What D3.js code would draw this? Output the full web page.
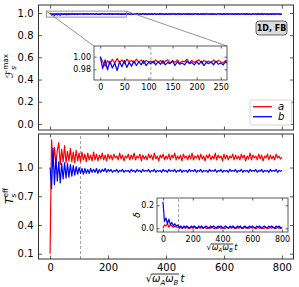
<!DOCTYPE html>
<html><head><meta charset="utf-8">
<script src="https://cdn.jsdelivr.net/npm/d3@7"></script>
<style>body{margin:0;background:#fff}text{font-family:"DejaVu Sans",sans-serif;fill:#000}</style>
</head><body><svg id="c" width="299" height="287"></svg>
<script>
// ---------- data ----------
const stepT = 5;     // time step of F and T series
const stepD = 10;    // time step of delta series
const seriesNames = ["a", "b"];
const seriesColors = ["#ff0000", "#0000ff"];

const Fa = [1.000,0.992,0.985,0.994,0.988,0.996,0.990,0.997,0.991,0.995,0.989,0.996,0.992,0.994,0.990,0.996,0.991,0.995,0.989,0.994,0.992,
0.993,0.990,0.995,0.991,0.994,0.989,0.993,0.995,0.990,0.994,
0.991,0.995,0.990,0.993,0.992,0.996,0.990,0.994,0.991,0.993,
0.995,0.990,0.994,0.992,0.993,0.990,0.995,0.991,0.994,0.992,
0.990,0.994,0.992,0.995,0.991,0.993,0.990,0.994,0.992,0.996,
0.991,0.993,0.990,0.995,0.992,0.994,0.991,0.993,0.990,0.994,
0.992,0.995,0.991,0.993,0.990,0.994,0.992,0.993,0.991,0.995,
0.990,0.993,0.992,0.994,0.991,0.995,0.990,0.993,0.992,0.994,
0.991,0.993,0.990,0.995,0.992,0.994,0.991,0.993,0.992,0.995,
0.990,0.994,0.991,0.993,0.992,0.995,0.990,0.994,0.991,0.993,
0.992,0.994,0.990,0.993,0.991,0.995,0.992,0.993,0.990,0.994,
0.991,0.995,0.992,0.993,0.990,0.994,0.991,0.993,0.992,0.995,
0.990,0.993,0.991,0.994,0.992,0.995,0.990,0.993,0.991,0.994,
0.992,0.993,0.990,0.995,0.991,0.994,0.992,0.993,0.990,0.994,
0.991,0.993,0.992,0.995,0.990,0.994,0.991,0.993,0.992,0.993];

const Fb = [1.000,0.981,0.995,0.979,0.993,0.982,0.990,0.978,0.992,0.984,0.994,0.983,0.991,0.985,0.993,0.986,0.992,0.987,0.994,0.986,0.991,
0.989,0.993,0.987,0.992,0.988,0.994,0.987,0.991,0.989,0.993,
0.986,0.992,0.988,0.990,0.987,0.993,0.989,0.991,0.987,0.992,
0.988,0.993,0.986,0.991,0.989,0.992,0.987,0.993,0.988,0.990,
0.987,0.992,0.989,0.991,0.986,0.993,0.988,0.991,0.987,0.992,
0.989,0.990,0.987,0.993,0.988,0.991,0.986,0.992,0.989,0.990,
0.987,0.993,0.988,0.991,0.987,0.992,0.989,0.990,0.986,0.992,
0.988,0.991,0.987,0.993,0.989,0.990,0.987,0.992,0.988,0.991,
0.986,0.993,0.989,0.990,0.987,0.992,0.988,0.991,0.987,0.993,
0.989,0.990,0.986,0.992,0.988,0.991,0.987,0.993,0.989,0.990,
0.987,0.992,0.988,0.991,0.986,0.993,0.989,0.990,0.987,0.992,
0.988,0.991,0.987,0.993,0.989,0.990,0.986,0.992,0.988,0.991,
0.987,0.993,0.989,0.990,0.987,0.992,0.988,0.991,0.986,0.993,
0.989,0.990,0.987,0.992,0.988,0.991,0.987,0.993,0.989,0.990,
0.986,0.992,0.988,0.991,0.987,0.993,0.989,0.990,0.988,0.991];

const Ta = [0.10,1.29,1.02,1.21,1.04,1.18,1.26,1.03,1.19,1.06,
1.23,1.05,1.17,1.07,1.20,1.06,1.16,1.05,1.18,1.07,
1.15,1.06,1.16,1.08,1.14,1.06,1.15,1.08,1.13,1.07,
1.16,1.08,1.14,1.07,1.13,1.09,1.15,1.08,1.13,1.07,
1.14,
1.09,1.13,1.08,1.14,1.10,1.12,1.08,1.15,1.09,1.13,
1.07,1.12,1.10,1.14,1.08,1.13,1.09,1.15,1.08,1.12,
1.10,1.14,1.07,1.13,1.09,1.12,1.08,1.14,1.10,1.13,
1.08,1.15,1.09,1.12,1.07,1.13,1.10,1.14,1.08,1.12,
1.09,1.14,1.08,1.13,1.10,1.15,1.08,1.12,1.09,1.13,
1.07,1.14,1.10,1.12,1.08,1.13,1.09,1.15,1.08,1.12,
1.10,1.13,1.08,1.14,1.09,1.12,1.07,1.13,1.10,1.14,
1.08,1.12,1.09,1.15,1.08,1.13,1.10,1.12,1.07,1.14,
1.09,1.13,1.08,1.12,1.10,1.14,1.08,1.13,1.09,1.12,
1.08,1.14,1.10,1.13,1.07,1.12,1.09,1.15,1.08,1.13,
1.10,1.12,1.08,1.14,1.09,1.13,1.07,1.12,1.10,1.14,
1.08,1.13,1.09,1.12,1.08,1.14,1.10,1.12,1.09,1.11];

const Tb = [1.00,0.78,1.20,0.82,1.10,0.86,1.06,0.84,1.04,0.88,
1.05,0.89,1.04,0.90,1.03,0.91,1.02,0.92,1.01,0.93,
1.00,0.94,0.99,0.93,0.99,0.94,0.98,0.94,0.99,0.95,
0.98,0.95,0.99,0.94,0.98,0.95,0.98,0.96,0.99,0.95,
0.98,
0.96,0.98,0.95,0.97,0.96,0.98,0.95,0.97,0.96,0.98,
0.95,0.97,0.96,0.97,0.95,0.98,0.96,0.97,0.95,0.98,
0.96,0.97,0.95,0.98,0.96,0.97,0.96,0.98,0.95,0.97,
0.96,0.98,0.95,0.97,0.96,0.97,0.95,0.98,0.96,0.97,
0.95,0.98,0.96,0.97,0.96,0.98,0.95,0.97,0.96,0.98,
0.95,0.97,0.96,0.97,0.95,0.98,0.96,0.97,0.96,0.98,
0.95,0.97,0.96,0.98,0.95,0.97,0.96,0.97,0.95,0.98,
0.96,0.97,0.96,0.98,0.95,0.97,0.96,0.98,0.95,0.97,
0.96,0.97,0.95,0.98,0.96,0.97,0.96,0.98,0.95,0.97,
0.96,0.98,0.95,0.97,0.96,0.97,0.95,0.98,0.96,0.97,
0.96,0.98,0.95,0.97,0.96,0.98,0.95,0.97,0.96,0.97,
0.95,0.98,0.96,0.97,0.96,0.98,0.95,0.97,0.96,0.97];

const Da = [0.00,0.03,0.02,0.04,0.01,0.03,0.02,0.01,0.02,0.01,0.01,
0.00,0.01,0.00,0.01,0.00,0.01,0.00,0.00,0.01,0.00,
0.01,0.00,0.00,0.01,0.00,0.01,0.00,0.01,0.00,0.00,
0.01,0.00,0.01,0.00,0.00,0.01,0.00,0.01,0.00,0.01,
0.00,0.00,0.01,0.00,0.01,0.00,0.01,0.00,0.00,0.01,
0.00,0.01,0.00,0.00,0.01,0.00,0.01,0.00,0.01,0.00,
0.01,0.00,0.00,0.01,0.00,0.01,0.00,0.00,0.01,0.00,
0.00,0.01,0.00,0.01,0.00,0.00,0.01,0.00,0.01,0.00];

const Db = [0.23,0.06,0.09,0.04,0.08,0.03,0.05,0.02,0.04,0.02,0.03,
0.01,0.02,0.00,0.02,0.01,0.02,0.01,0.00,0.02,0.01,
0.02,0.01,0.00,0.02,0.01,0.02,0.00,0.01,0.02,0.01,
0.00,0.02,0.01,0.02,0.01,0.00,0.02,0.01,0.02,0.00,
0.01,0.02,0.01,0.00,0.02,0.01,0.02,0.01,0.00,0.02,
0.01,0.02,0.00,0.01,0.02,0.01,0.00,0.02,0.01,0.02,
0.01,0.00,0.02,0.01,0.02,0.00,0.01,0.02,0.01,0.00,
0.02,0.01,0.02,0.01,0.00,0.02,0.01,0.02,0.00,0.01];

const markerT = 105;       // dashed vertical marker
const mainXTicks = [0, 200, 400, 600, 800];
const topYTicks = [0.0, 0.2, 0.4, 0.6, 0.8, 1.0];
const botYTicks = [0.1, 0.4, 0.7, 1.0];
const inset1XTicks = [0, 50, 100, 150, 200, 250];
const inset1YTicks = [0.98, 1.00];
const inset2XTicks = [0, 200, 400, 600, 800];
const inset2YTicks = [0.0, 0.2];
const tagText = "1D, FB";

// ---------- drawing ----------
const svg = d3.select("#c");
const timesOf = (arr, step) => arr.map((v, i) => [i * step, v]);

const x = d3.scaleLinear().domain([-40, 840]).range([38.5, 293.5]);
const yTop = d3.scaleLinear().domain([-0.055, 1.072]).range([130, 5]);
const yBot = d3.scaleLinear().domain([0.045, 1.35]).range([259, 134]);

const xi1 = d3.scaleLinear().domain([-13, 263]).range([94, 227]);
const yi1 = d3.scaleLinear().domain([0.963, 1.017]).range([80, 46]);
const xi2 = d3.scaleLinear().domain([-40, 840]).range([157, 288]);
const yi2 = d3.scaleLinear().domain([-0.032, 0.263]).range([232, 198]);

let clipId = 0;
function clipFor(xs, ys) {
  const id = "clip" + (clipId++);
  svg.append("clipPath").attr("id", id).append("rect")
    .attr("x", xs.range()[0]).attr("y", ys.range()[1])
    .attr("width", xs.range()[1] - xs.range()[0])
    .attr("height", ys.range()[0] - ys.range()[1]);
  return "url(#" + id + ")";
}

function drawLines(xs, ys, list, lw) {
  const g = svg.append("g").attr("clip-path", clipFor(xs, ys));
  const line = d3.line().x(d => xs(d[0])).y(d => ys(d[1]));
  list.forEach((d, i) => {
    g.append("path").attr("d", line(d)).attr("fill", "none")
      .attr("stroke", seriesColors[i]).attr("stroke-width", lw)
      .attr("stroke-linejoin", "round");
  });
}

function marker(xs, ys) {
  svg.append("line").attr("x1", xs(markerT)).attr("x2", xs(markerT))
    .attr("y1", ys.range()[0]).attr("y2", ys.range()[1])
    .attr("stroke", "#999").attr("stroke-width", 0.9).attr("stroke-dasharray", "3,2");
}

function axes(xs, ys, o) {
  const b = ys.range()[0], t = ys.range()[1], l = xs.range()[0], r = xs.range()[1];
  const style = g => {
    g.select(".domain").remove();
    g.selectAll("line").attr("stroke", "#333").attr("stroke-width", 0.8);
    g.selectAll("text").attr("font-size", o.fs).attr("fill", "#000")
      .style("font-family", "'DejaVu Sans',sans-serif");
  };
  svg.append("g").attr("transform", `translate(0,${b})`)
    .call(d3.axisBottom(xs).tickValues(o.xt).tickSize(-o.tick).tickPadding(o.xpad)
      .tickFormat(o.xlab ? d3.format("d") : () => "")).call(style);
  svg.append("g").attr("transform", `translate(0,${t})`)
    .call(d3.axisTop(xs).tickValues(o.xt).tickSize(-o.tick).tickFormat(() => "")).call(style);
  svg.append("g").attr("transform", `translate(${l},0)`)
    .call(d3.axisLeft(ys).tickValues(o.yt).tickSize(-o.tick).tickPadding(o.ypad)
      .tickFormat(d3.format(o.yfmt))).call(style);
  svg.append("g").attr("transform", `translate(${r},0)`)
    .call(d3.axisRight(ys).tickValues(o.yt).tickSize(-o.tick).tickFormat(() => "")).call(style);
  svg.append("rect").attr("x", l).attr("y", t).attr("width", r - l).attr("height", b - t)
    .attr("fill", "none").attr("stroke", "#333").attr("stroke-width", o.fw);
}

// ---- top main panel ----
drawLines(x, yTop, [timesOf(Fa, stepT), timesOf(Fb, stepT)], 1.2);

// zoom rectangle + connectors
const rx0 = x(-13), rx1 = x(263), ry0 = yTop(1.017), ry1 = yTop(0.963);
svg.append("line").attr("x1", rx0).attr("y1", ry0).attr("x2", xi1.range()[0]).attr("y2", yi1.range()[1])
  .attr("stroke", "#888").attr("stroke-width", 0.9);
svg.append("line").attr("x1", rx1).attr("y1", ry0).attr("x2", xi1.range()[1]).attr("y2", yi1.range()[1])
  .attr("stroke", "#888").attr("stroke-width", 0.9);
svg.append("rect").attr("x", rx0).attr("y", ry0).attr("width", rx1 - rx0).attr("height", ry1 - ry0)
  .attr("fill", "none").attr("stroke", "#888").attr("stroke-width", 0.9);

axes(x, yTop, {xt: mainXTicks, yt: topYTicks, xlab: false, yfmt: ".1f", fs: 10, tick: 3.5, xpad: 5, ypad: 5, fw: 1});

// top inset
svg.append("rect").attr("x", xi1.range()[0]).attr("y", yi1.range()[1])
  .attr("width", xi1.range()[1] - xi1.range()[0]).attr("height", yi1.range()[0] - yi1.range()[1]).attr("fill", "#fff");
marker(xi1, yi1);
drawLines(xi1, yi1, [timesOf(Fa, stepT), timesOf(Fb, stepT)], 1.2);
axes(xi1, yi1, {xt: inset1XTicks, yt: inset1YTicks, xlab: true, yfmt: ".2f", fs: 8, tick: 2.5, xpad: 4, ypad: 3, fw: 0.8});

// tag box
svg.append("rect").attr("x", 256).attr("y", 21).attr("width", 31).attr("height", 14).attr("rx", 3)
  .attr("fill", "#dcdcdc").attr("stroke", "#444").attr("stroke-width", 0.8);
svg.append("text").attr("x", 271.5).attr("y", 31.2).attr("text-anchor", "middle")
  .attr("font-size", 8).attr("font-weight", "bold").text(tagText);

// legend
const leg = svg.append("g");
leg.append("rect").attr("x", 250).attr("y", 100).attr("width", 41.5).attr("height", 25).attr("rx", 2)
  .attr("fill", "#fff").attr("stroke", "#ccc").attr("stroke-width", 0.8);
seriesNames.forEach((n, i) => {
  const yy = 106.7 + i * 10;
  leg.append("line").attr("x1", 253).attr("x2", 272).attr("y1", yy).attr("y2", yy)
    .attr("stroke", seriesColors[i]).attr("stroke-width", 1.3);
  leg.append("text").attr("x", 278).attr("y", yy + 3.5).attr("font-size", 10)
    .attr("font-style", "italic").text(n);
});

// y labels with stacked sub/superscript
function ylabel(cx, cy, main, sub, sup, mainItalic, fs) {
  const t = svg.append("text").attr("transform", `translate(${cx},${cy}) rotate(-90)`)
    .attr("text-anchor", "middle").attr("font-size", fs);
  t.append("tspan").attr("font-style", mainItalic ? "italic" : "normal").text(main);
  t.append("tspan").attr("font-size", fs * 0.7).attr("font-style", "italic").attr("dy", 2.5).text(sub);
  t.append("tspan").attr("font-size", fs * 0.7).attr("font-style", "normal")
    .attr("dx", -fs * 0.7 * 0.52).attr("dy", -7.5).text(sup);
}
ylabel(13, 66, "\u2131", "s", "max", false, 10.5);

// ---- bottom main panel ----
marker(x, yBot);
drawLines(x, yBot, [timesOf(Ta, stepT), timesOf(Tb, stepT)], 1.2);
axes(x, yBot, {xt: mainXTicks, yt: botYTicks, xlab: true, yfmt: ".1f", fs: 10, tick: 3.5, xpad: 5, ypad: 5, fw: 1});
ylabel(13, 196, "T", "s", "eff", true, 10.5);

// bottom inset
svg.append("rect").attr("x", xi2.range()[0]).attr("y", yi2.range()[1])
  .attr("width", xi2.range()[1] - xi2.range()[0]).attr("height", yi2.range()[0] - yi2.range()[1]).attr("fill", "#fff");
marker(xi2, yi2);
drawLines(xi2, yi2, [timesOf(Da, stepD), timesOf(Db, stepD)], 1.2);
axes(xi2, yi2, {xt: inset2XTicks, yt: inset2YTicks, xlab: true, yfmt: ".1f", fs: 8, tick: 2.5, xpad: 4, ypad: 3, fw: 0.8});
svg.append("text").attr("transform", `translate(140,215) rotate(-90)`).attr("text-anchor", "middle")
  .attr("font-size", 9).attr("font-style", "italic").text("\u03b4");

// sqrt labels
function sqrtLabel(cx, baseY, fs) {
  const t = svg.append("text").attr("x", cx).attr("y", baseY).attr("text-anchor", "middle").attr("font-size", fs);
  t.append("tspan").text("\u221a");
  t.append("tspan").attr("font-style", "italic").text("\u03c9");
  t.append("tspan").attr("font-style", "italic").attr("font-size", fs * 0.7).attr("dy", fs * 0.25).text("A");
  t.append("tspan").attr("font-style", "italic").attr("dy", -fs * 0.25).text("\u03c9");
  t.append("tspan").attr("font-style", "italic").attr("font-size", fs * 0.7).attr("dy", fs * 0.25).text("B");
  t.append("tspan").attr("font-style", "italic").attr("dy", -fs * 0.25).text("\u2009t");
  const n = t.node();
  const e0 = n.getExtentOfChar(0), e4 = n.getExtentOfChar(4);
  svg.append("line").attr("x1", e0.x + e0.width - 0.5).attr("x2", e4.x + e4.width + 0.5)
    .attr("y1", e0.y + 1).attr("y2", e0.y + 1).attr("stroke", "#000").attr("stroke-width", 0.8);
}
sqrtLabel(165, 282, 10);
sqrtLabel(222, 250, 8);
</script></body></html>
